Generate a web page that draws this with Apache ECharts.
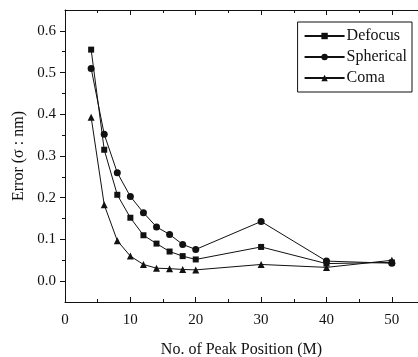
<!DOCTYPE html>
<html>
<head>
<meta charset="utf-8">
<script src="https://cdn.jsdelivr.net/npm/echarts@6/dist/echarts.min.js"></script>
<style>
  html, body { margin: 0; padding: 0; background: #fff; }
  #main { width: 418px; height: 357px; }
</style>
</head>
<body>
<div id="main"></div>
<script>
// number of peak positions M
const peaks = [4, 6, 8, 10, 12, 14, 16, 18, 20, 30, 40, 50];
const defocus = [0.555, 0.315, 0.207, 0.152, 0.110, 0.090, 0.071, 0.060, 0.052, 0.082, 0.042, 0.045];
const spherical = [0.510, 0.352, 0.260, 0.203, 0.164, 0.130, 0.112, 0.088, 0.076, 0.143, 0.048, 0.043];
const coma = [0.393, 0.183, 0.097, 0.060, 0.040, 0.031, 0.030, 0.028, 0.027, 0.040, 0.033, 0.050];

const xMajor = [0, 10, 20, 30, 40, 50];
const xMinor = [5, 15, 25, 35, 45];
const yMajor = [0, 0.1, 0.2, 0.3, 0.4, 0.5, 0.6];
const yMinor = [0.05, 0.15, 0.25, 0.35, 0.45, 0.55];

const font = 'Liberation Serif';
const ink = '#111';

const pairs = arr => peaks.map((x, i) => [x, arr[i]]);

const chart = echarts.init(document.getElementById('main'));

const xBase = {
    type: 'value', min: 0, max: 54,
    splitLine: { show: false }
};
const yBase = {
    type: 'value', min: -0.05, max: 0.65,
    splitLine: { show: false }
};

const option = {
    backgroundColor: '#fff',
    animation: false,
    grid: { left: 65, top: 10, right: 0, bottom: 55, outerBoundsMode: 'none' },
    legend: {
        orient: 'vertical',
        right: 6,
        top: 22,
        padding: [6, 5, 6, 6],
        itemGap: 5,
        itemWidth: 40,
        itemHeight: 8,
        borderColor: ink,
        borderWidth: 1,
        backgroundColor: '#fff',
        textStyle: { fontFamily: font, fontSize: 16, color: ink, padding: [0, 0, 0, -3] },
        data: ['Defocus', 'Spherical', 'Coma']
    },
    xAxis: [
        {
            ...xBase, position: 'bottom',
            name: 'No. of Peak Position (M)',
            nameLocation: 'middle', nameGap: 40,
            nameTextStyle: { fontFamily: font, fontSize: 16, color: ink },
            axisLine: { onZero: false, lineStyle: { color: ink, width: 1 } },
            axisTick: { inside: true, length: 5, customValues: xMajor, lineStyle: { color: ink } },
            axisLabel: { customValues: xMajor, fontFamily: font, fontSize: 15, color: ink, margin: 11 }
        },
        {
            ...xBase, position: 'top',
            axisLine: { onZero: false, lineStyle: { color: ink, width: 1 } },
            axisTick: { inside: true, length: 5, customValues: xMajor, lineStyle: { color: ink } },
            axisLabel: { show: false }
        },
        {
            ...xBase, position: 'bottom',
            axisLine: { show: false, onZero: false },
            axisTick: { inside: true, length: 3, customValues: xMinor, lineStyle: { color: ink } },
            axisLabel: { show: false }
        },
        {
            ...xBase, position: 'top',
            axisLine: { show: false, onZero: false },
            axisTick: { inside: true, length: 3, customValues: xMinor, lineStyle: { color: ink } },
            axisLabel: { show: false }
        }
    ],
    yAxis: [
        {
            ...yBase, position: 'left',
            name: 'Error (σ : nm)',
            nameLocation: 'middle', nameGap: 36,
            nameTextStyle: { fontFamily: font, fontSize: 16, color: ink },
            axisLine: { show: true, onZero: false, lineStyle: { color: ink, width: 1 } },
            axisTick: { show: true, length: 5, customValues: yMajor, lineStyle: { color: ink } },
            axisLabel: {
                customValues: yMajor, fontFamily: font, fontSize: 15, color: ink, margin: 9,
                formatter: v => v.toFixed(1)
            }
        },
        {
            ...yBase, position: 'left',
            axisLine: { show: false, onZero: false },
            axisTick: { show: true, length: 3, customValues: yMinor, lineStyle: { color: ink } },
            axisLabel: { show: false }
        }
    ],
    series: [
        {
            name: 'Defocus', type: 'line', data: pairs(defocus),
            symbol: 'rect', symbolSize: 6,
            lineStyle: { color: ink, width: 1 },
            itemStyle: { color: ink }
        },
        {
            name: 'Spherical', type: 'line', data: pairs(spherical),
            symbol: 'circle', symbolSize: 7,
            lineStyle: { color: ink, width: 1 },
            itemStyle: { color: ink }
        },
        {
            name: 'Coma', type: 'line', data: pairs(coma),
            symbol: 'triangle', symbolSize: 7,
            lineStyle: { color: ink, width: 1 },
            itemStyle: { color: ink }
        }
    ]
};

chart.setOption(option);
</script>
</body>
</html>
